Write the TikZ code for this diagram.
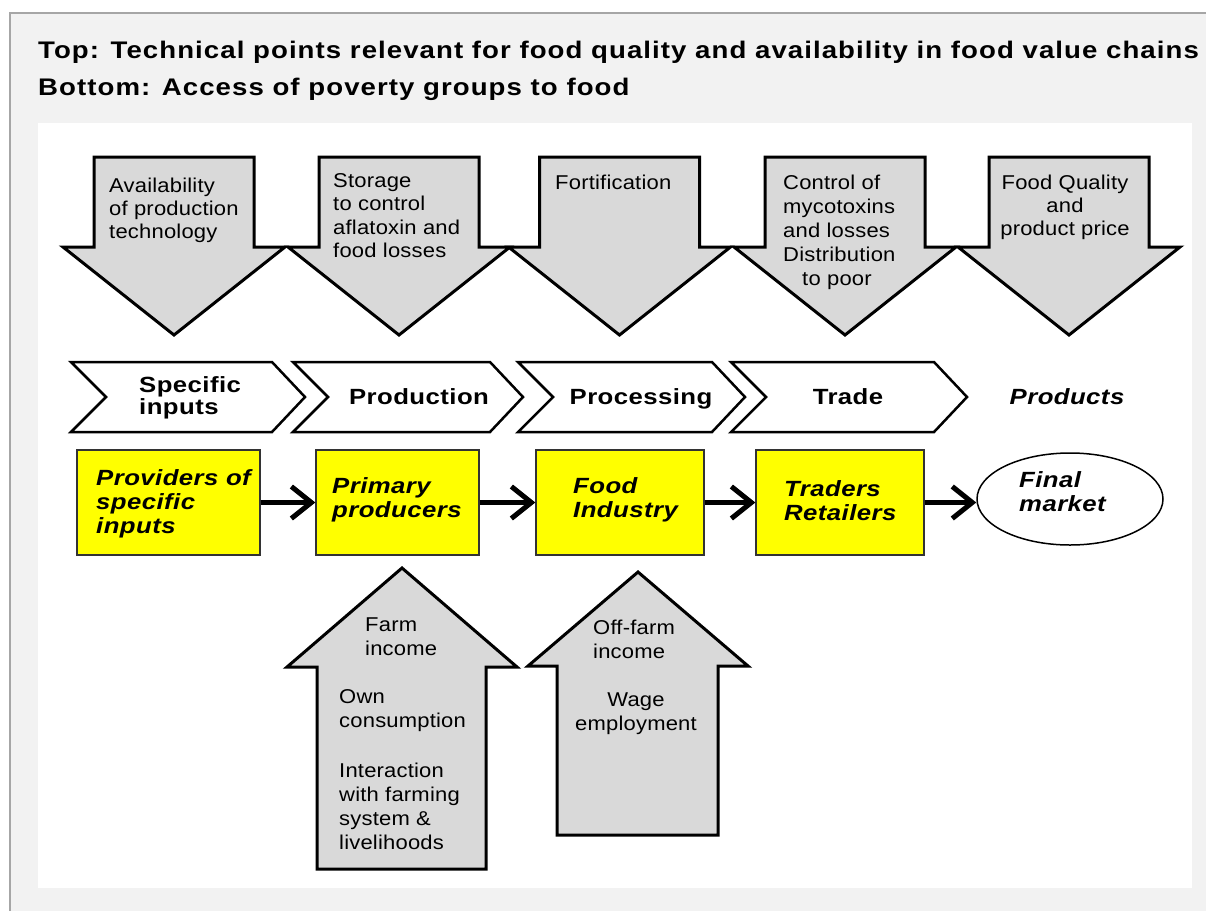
\documentclass[tikz,border=0pt]{standalone}
\usepackage{fontspec}
\setmainfont{Liberation Sans}
\newfontfamily\txtfont[FakeStretch=1.1,LetterSpace=1]{Liberation Sans}
\newfontfamily\bfont[FakeStretch=1.17,LetterSpace=2]{Liberation Sans}
\newfontfamily\tfont[FakeStretch=1.15,LetterSpace=4.4]{Liberation Sans}
\usetikzlibrary{arrows.meta,shapes.geometric}
\definecolor{panelgray}{HTML}{F2F2F2}
\definecolor{linegray}{HTML}{A6A6A6}
\definecolor{arrowgray}{HTML}{D9D9D9}
\definecolor{boxyellow}{HTML}{FFFF00}
\begin{document}
\begin{tikzpicture}[x=1pt,y=-1pt,
  bigarrow/.style={draw=black,line width=3pt,fill=arrowgray,line join=miter},
  chev/.style={draw=black,line width=2.5pt,fill=white,line join=miter},
  ybox/.style={draw=black!80,line width=1.3pt,fill=boxyellow,inner sep=0pt,minimum height=105pt},
  market/.style={ellipse,draw=black,line width=1.5pt,fill=white,inner sep=0pt,minimum width=186pt,minimum height=92pt},
  conn/.style={line width=5pt,-{Straight Barb[length=20pt,width=32pt]}},
  tx/.style={font=\txtfont\fontsize{20}{23.3}\selectfont,inner sep=0pt,align=left,anchor=north west},
  txw/.style={tx,font=\txtfont\fontsize{20}{24}\selectfont},
  txc/.style={tx,align=center,anchor=north},
  chevtxt/.style={font=\bfont\bfseries\fontsize{22}{22}\selectfont,inner sep=0pt,align=left},
  boxtxt/.style={font=\bfont\bfseries\itshape\fontsize{22}{24}\selectfont,inner sep=0pt,align=left,anchor=north west},
  titletxt/.style={font=\tfont\bfseries\fontsize{24}{37}\selectfont,inner sep=0pt,align=left,anchor=north west}
]
\useasboundingbox (0,0) rectangle (1206,911);
\fill[white] (0,0) rectangle (1206,911);
\fill[panelgray] (10,13) rectangle (1206,911);
\draw[linegray,line width=1.5pt] (10,911) -- (10,13) -- (1206,13);
\fill[white] (38,123) rectangle (1192,888);

\node[titletxt] (title) at (38,41) {Top: Technical points relevant for food quality and availability in food value chains\\Bottom: Access of poverty groups to food};

% down arrows
\foreach \c in {174,399,619.5,845,1069}{
  \draw[bigarrow] ({\c-80},157) -- ({\c+80},157) -- ({\c+80},247) -- ({\c+111},247) -- (\c,335) -- ({\c-111},247) -- ({\c-80},247) -- cycle;
}
\node[tx] (d1) at (109,177.4) {Availability\\of production\\technology};
\node[tx] (d2) at (333,173.4) {Storage\\to control\\aflatoxin and\\food losses};
\node[tx] (d3) at (555,174.4) {Fortification};
\node[txw] (d4) at (783,174.4) {Control of\\mycotoxins\\and losses\\Distribution\\\hspace*{19pt}to poor};
\node[txc] (d5) at (1065,174.4) {Food Quality\\and\\product price};

% chevrons
\foreach \l/\r in {71/272,293/490,518/712,731/934}{
  \draw[chev] (\l,362) -- (\r,362) -- ({\r+33},397) -- (\r,432) -- (\l,432) -- ({\l+35},397) -- cycle;
}
\node[chevtxt,anchor=north west] (c1) at (139,376) {Specific\\inputs};
\node[chevtxt,anchor=base] (c2) at (419,404) {Production};
\node[chevtxt,anchor=base] (c3) at (641,404) {Processing};
\node[chevtxt,anchor=base] (c4) at (848,404) {Trade};
\node[chevtxt,anchor=base,font=\bfont\bfseries\itshape\fontsize{22}{22}\selectfont] (c5) at (1067,404) {Products};

% actor boxes
\node[ybox,minimum width=183pt] (b1) at (168.5,502.5) {};
\node[ybox,minimum width=163pt] (b2) at (397.5,502.5) {};
\node[ybox,minimum width=168pt] (b3) at (620,502.5) {};
\node[ybox,minimum width=168pt] (b4) at (840,502.5) {};
\node[market] (fm) at (1070,499) {};
\draw[conn] (b1.east) -- (b2.west);
\draw[conn] (b2.east) -- (b3.west);
\draw[conn] (b3.east) -- (b4.west);
\draw[conn] (b4.east) -- (b4.east -| fm.west);
\node[boxtxt] (t1) at (96,469) {Providers of\\specific\\inputs};
\node[boxtxt] (t2) at (332,477) {Primary\\producers};
\node[boxtxt] (t3) at (573,477) {Food\\Industry};
\node[boxtxt] (t4) at (784,480) {Traders\\Retailers};
\node[boxtxt] (t5) at (1019,471) {Final\\market};

% up arrows
\draw[bigarrow] (402,568) -- (517,667) -- (486,667) -- (486,869) -- (317,869) -- (317,667) -- (287,667) -- cycle;
\draw[bigarrow] (638,572) -- (748,666) -- (718,666) -- (718,835) -- (557,835) -- (557,666) -- (528,666) -- cycle;
\node[txw] (u1) at (365,617.4) {Farm\\income};
\node[txw] (u2) at (339,689.4) {Own\\consumption};
\node[txw] (u3) at (339,762.4) {Interaction\\with farming\\system \&\\livelihoods};
\node[txw] (u4) at (593,619.4) {Off-farm\\income};
\node[txc,font=\txtfont\fontsize{20}{24}\selectfont] (u5) at (636,692.4) {Wage\\employment};
\end{tikzpicture}
\end{document}
